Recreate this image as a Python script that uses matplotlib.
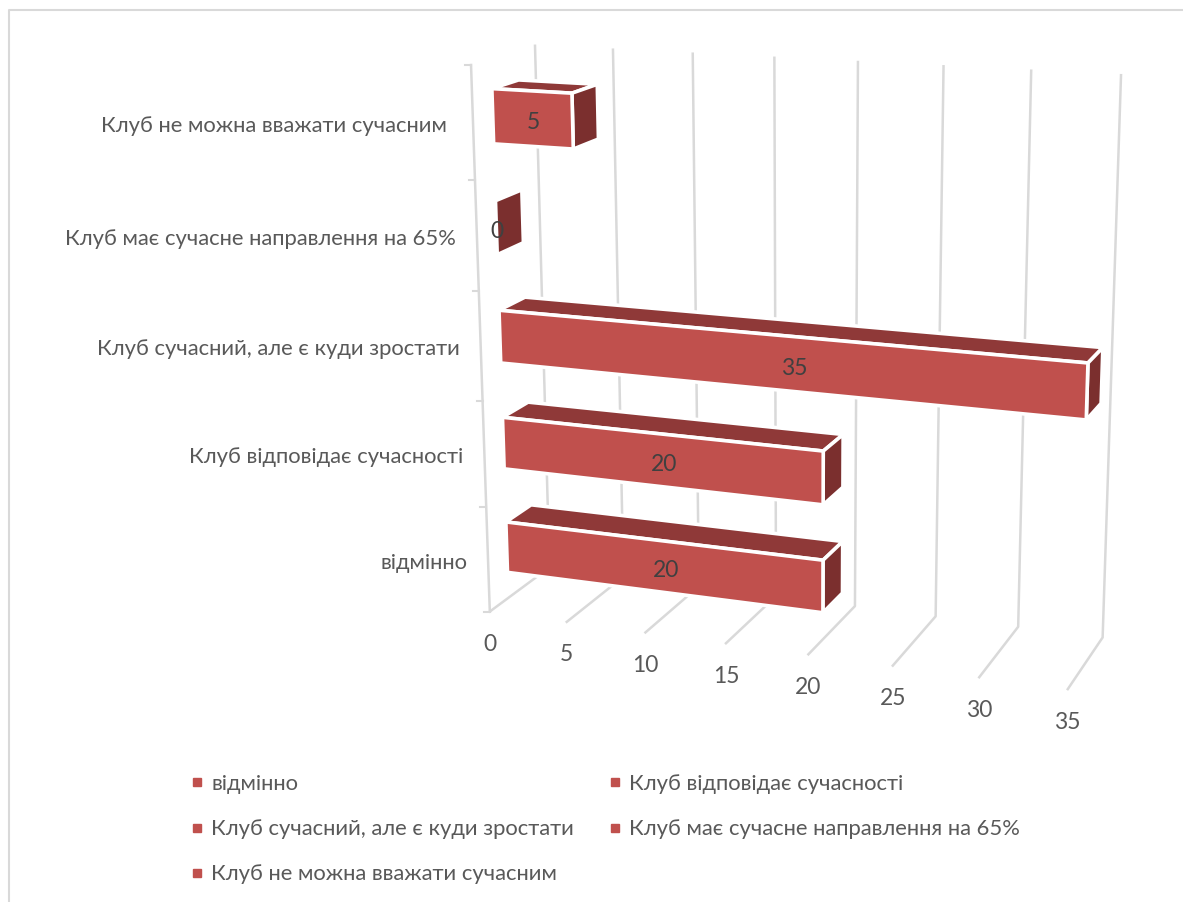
import numpy as np
import matplotlib
matplotlib.use("Agg")
import matplotlib.pyplot as plt
from matplotlib.lines import Line2D
from matplotlib.patches import Polygon

plt.rcParams['font.family'] = ['Lato', 'Open Sans', 'DejaVu Sans']

categories = ["відмінно", "Клуб відповідає сучасності", "Клуб сучасний, але є куди зростати",
              "Клуб має сучасне направлення на 65%", "Клуб не можна вважати сучасним"]
values = [20, 20, 35, 0, 5]
ticks = [0, 5, 10, 15, 20, 25, 30, 35]

# corners of the 3d box: (value, category height, depth) -> picture pixels
box = [(0, 0, 0), (35, 0, 0), (20, 0, 0), (0, 0, 1), (35, 0, 1), (20, 0, 1),
       (0, 5, 1), (35, 5, 1), (20, 5, 1), (0, 5, 0)]
pix = [(490, 612), (1068, 689), (808, 654), (549, 567), (1102, 638), (856, 606),
       (535, 46), (1121, 75), (858, 62), (471, 65)]

# fit the camera
rows = []
for (a, b, c), (px, py) in zip(box, pix):
    rows.append([a, b, c, 1, 0, 0, 0, 0, -px * a, -px * b, -px * c, -px])
    rows.append([0, 0, 0, 0, a, b, c, 1, -py * a, -py * b, -py * c, -py])
cam = np.linalg.svd(np.array(rows, dtype=float))[2][-1].reshape(3, 4)


def project(v, h, d):
    p = cam @ np.array([v, h, d, 1.0])
    return p[0] / p[2], p[1] / p[2]


GRID = '#d9d9d9'
FRONT = '#c0504d'
TOP = '#8f3938'
SIDE = '#7b2f2e'
FS = 15.8

fig = plt.figure(figsize=(11.83, 9.02), dpi=100)
ax = fig.add_axes([0, 0, 1, 1])
ax.set_xlim(0, 1183)
ax.set_ylim(902, 0)
ax.axis('off')

# chart frame
ax.plot([9, 9, 1183], [902, 10, 10], color=GRID, lw=1.5, zorder=1)

# gridlines on wall and floor
for t in ticks:
    pts = [project(t, 0, 0), project(t, 0, 1), project(t, 5, 1)]
    ax.plot(*zip(*pts), color=GRID, lw=1.8, zorder=1)
    x, y = project(t, 0, 0)
    ax.text(x, y + 33, str(t), ha='center', va='center', fontsize=16.5, color='#595959')

# category axis
ax.plot(*zip(project(0, 0, 0), project(0, 5, 0)), color=GRID, lw=1.8, zorder=1)
for i in range(6):
    x, y = project(0, i, 0)
    ax.plot([x - 6, x], [y, y], color=GRID, lw=1.5, zorder=1)

# bars
d0, d1 = 0.3, 0.72
for i, (name, v) in enumerate(zip(categories, values)):
    h0, h1 = i + 0.25, i + 0.74
    faces = [([(0, h1, d0), (0, h1, d1), (v, h1, d1), (v, h1, d0)], TOP),
             ([(v, h0, d0), (v, h0, d1), (v, h1, d1), (v, h1, d0)], SIDE),
             ([(0, h0, d0), (v, h0, d0), (v, h1, d0), (0, h1, d0)], FRONT)]
    for corners, col in faces:
        if v == 0 and col != SIDE:
            continue
        ax.add_patch(Polygon([project(*c) for c in corners], closed=True, facecolor=col,
                             edgecolor='white', lw=2.6, zorder=3))
    front = np.array([project(*c) for c in faces[2][0]])
    x, y = front.mean(axis=0)
    ax.text(x + 1, y + 4, str(v), ha='center', va='center', fontsize=16.5, color='#404040', zorder=4)
    x, y = project(0, i + 0.5, 0)
    label = name + " " if i == 4 else name
    ax.text(x - 21, y + 3, label, ha='right', va='center', fontsize=FS, color='#595959')

# legend, filled column by column
order = [0, 2, 4, 1, 3]
handles = [Line2D([], [], ls='', marker='s', ms=5.5, color=FRONT, label=categories[k]) for k in order]
ax.legend(handles=handles, ncol=2, loc='upper left', bbox_to_anchor=(192.6, 774), bbox_transform=ax.transData,
          frameon=False, fontsize=FS, labelcolor='#595959', labelspacing=1.15, columnspacing=1.66,
          handlelength=0.4, handletextpad=0.44, borderpad=0, borderaxespad=0)

fig.savefig("out.png", dpi=100)
